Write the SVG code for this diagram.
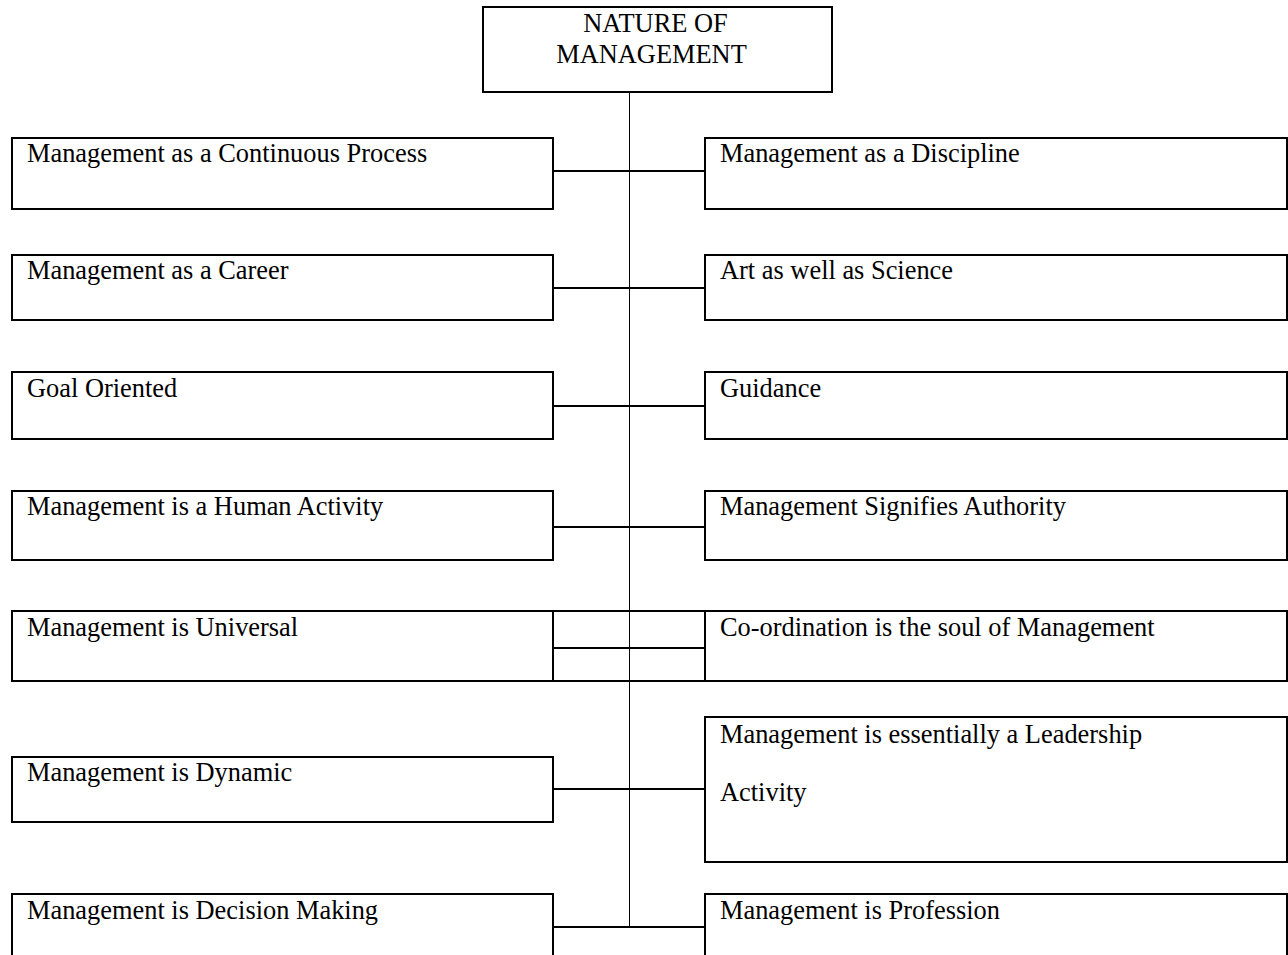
<svg xmlns="http://www.w3.org/2000/svg" width="1288" height="955" viewBox="0 0 1288 955">
<style>
.box{fill:#fff;stroke:#000;stroke-width:2}
.t{font-family:"Liberation Serif","Times New Roman",serif;font-size:26.4px;fill:#000}
.c{stroke:#000;stroke-width:2;fill:none}
.v{stroke:#000;stroke-width:1;fill:none}
</style>
<rect width="1288" height="955" fill="#fff"/>
<g id="connectors">
<line class="v" x1="629.5" y1="92" x2="629.5" y2="926"/>
<line class="c" x1="553" y1="171" x2="705" y2="171"/>
<line class="c" x1="553" y1="288" x2="705" y2="288"/>
<line class="c" x1="553" y1="406" x2="705" y2="406"/>
<line class="c" x1="553" y1="527" x2="705" y2="527"/>
<line class="c" x1="553" y1="611" x2="705" y2="611"/>
<line class="c" x1="553" y1="648" x2="705" y2="648"/>
<line class="c" x1="553" y1="681" x2="705" y2="681"/>
<line class="c" x1="553" y1="789" x2="705" y2="789"/>
<line class="c" x1="553" y1="927" x2="705" y2="927"/>
</g>
<g id="root"><rect class="box" x="483" y="7" width="349" height="85"/><text class="t" x="655.5" y="32" text-anchor="middle">NATURE OF</text><text class="t" x="651.5" y="63" text-anchor="middle">MANAGEMENT</text></g>
<g id="l1"><rect class="box" x="12" y="138" width="541" height="71"/><text class="t" x="27" y="162">Management as a Continuous Process</text></g>
<g id="r1"><rect class="box" x="705" y="138" width="582" height="71"/><text class="t" x="720" y="162">Management as a Discipline</text></g>
<g id="l2"><rect class="box" x="12" y="255" width="541" height="65"/><text class="t" x="27" y="279">Management as a Career</text></g>
<g id="r2"><rect class="box" x="705" y="255" width="582" height="65"/><text class="t" x="720" y="279">Art as well as Science</text></g>
<g id="l3"><rect class="box" x="12" y="372" width="541" height="67"/><text class="t" x="27" y="397">Goal Oriented</text></g>
<g id="r3"><rect class="box" x="705" y="372" width="582" height="67"/><text class="t" x="720" y="397">Guidance</text></g>
<g id="l4"><rect class="box" x="12" y="491" width="541" height="69"/><text class="t" x="27" y="515">Management is a Human Activity</text></g>
<g id="r4"><rect class="box" x="705" y="491" width="582" height="69"/><text class="t" x="720" y="515">Management Signifies Authority</text></g>
<g id="l5"><rect class="box" x="12" y="611" width="541" height="70"/><text class="t" x="27" y="636">Management is Universal</text></g>
<g id="r5"><rect class="box" x="705" y="611" width="582" height="70"/><text class="t" x="720" y="636">Co-ordination is the soul of Management</text></g>
<g id="l6"><rect class="box" x="12" y="757" width="541" height="65"/><text class="t" x="27" y="781">Management is Dynamic</text></g>
<g id="r6"><rect class="box" x="705" y="717" width="582" height="145"/><text class="t" x="720" y="743">Management is essentially a Leadership</text><text class="t" x="720" y="801">Activity</text></g>
<g id="l7"><rect class="box" x="12" y="894" width="541" height="80"/><text class="t" x="27" y="919">Management is Decision Making</text></g>
<g id="r7"><rect class="box" x="705" y="894" width="582" height="80"/><text class="t" x="720" y="919">Management is Profession</text></g>
</svg>
